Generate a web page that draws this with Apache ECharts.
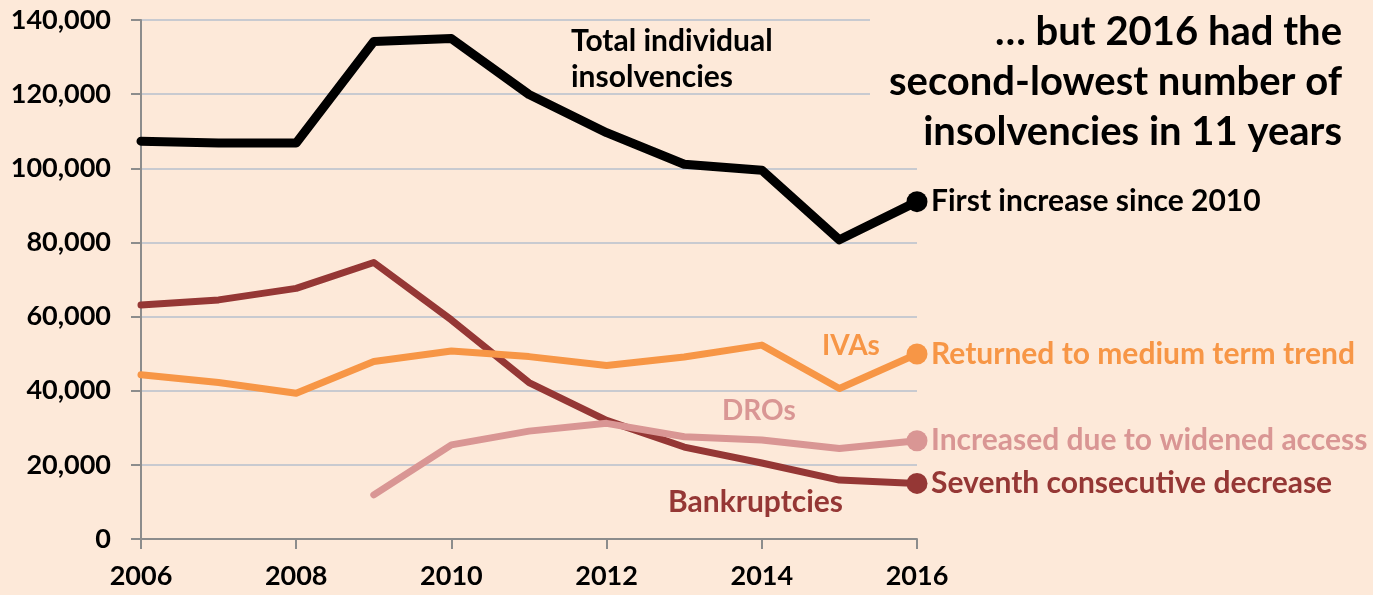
<!DOCTYPE html>
<html>
<head>
<meta charset="utf-8">
<script src="https://cdn.jsdelivr.net/npm/echarts@6/dist/echarts.min.js"></script>
<style>
html,body{margin:0;padding:0;background:#FDE9D9;}
#chart{width:1373px;height:595px;}
</style>
</head>
<body>
<div id="chart"></div>
<script>
const years = [2006, 2007, 2008, 2009, 2010, 2011, 2012, 2013, 2014, 2015, 2016];
const totalInsolvencies = [107300, 106800, 106800, 134200, 135000, 119900, 109600, 101100, 99500, 80700, 91000];
const bankruptcies = [63100, 64500, 67600, 74600, 59100, 42200, 32000, 24800, 20500, 15900, 15000];
const ivas = [44300, 42200, 39300, 47900, 50700, 49200, 46800, 49100, 52300, 40600, 49900];
const dros = [null, null, null, 11900, 25400, 29100, 31200, 27600, 26700, 24400, 26500];
const yTicks = [0, 20000, 40000, 60000, 80000, 100000, 120000, 140000];
const endNotes = {
  total: 'First increase since 2010',
  ivas: 'Returned to medium term trend',
  dros: 'Increased due to widened access',
  bankruptcies: 'Seventh consecutive decrease'
};
const headline = '\u2026 but 2016 had the\nsecond-lowest number of\ninsolvencies in 11 years';

const FONT = 'Lato, "Open Sans", sans-serif';
const BG = '#FDE9D9';

function build(values) {
  return values.map((v, i) => {
    const item = { value: [years[i], v] };
    if (i === values.length - 1) { item.symbol = 'circle'; item.symbolSize = 21; }
    return item;
  });
}

function lineSeries(name, values, color, width, note) {
  return {
    name: name,
    type: 'line',
    data: build(values),
    symbol: 'none',
    showSymbol: true,
    connectNulls: false,
    lineStyle: { color: color, width: width, join: 'round', cap: 'round' },
    itemStyle: { color: color },
    emphasis: { disabled: true },
    endLabel: {
      show: true,
      formatter: note,
      color: color,
      fontFamily: FONT,
      fontWeight: 'bold',
      fontSize: 30,
      distance: 14
    }
  };
}

const chart = echarts.init(document.getElementById('chart'));
chart.setOption({
  backgroundColor: BG,
  animation: false,
  grid: { left: 141, right: 456, top: 20, bottom: 56 },
  xAxis: {
    type: 'value',
    min: 2006, max: 2016, interval: 2,
    axisLine: { lineStyle: { color: '#8c8c8c', width: 2 } },
    axisTick: { show: true, length: 10, lineStyle: { color: '#8c8c8c', width: 2 } },
    splitLine: { show: false },
    axisLabel: {
      formatter: v => String(v),
      color: '#000', fontFamily: FONT, fontWeight: 'bold', fontSize: 27, margin: 24
    }
  },
  yAxis: {
    type: 'value',
    min: yTicks[0], max: yTicks[yTicks.length - 1], interval: 20000,
    axisLine: { show: true, lineStyle: { color: '#8c8c8c', width: 2 } },
    axisTick: { show: true, length: 10, lineStyle: { color: '#8c8c8c', width: 2 } },
    splitLine: { show: true, lineStyle: { color: '#c8cad0', width: 2 } },
    axisLabel: {
      formatter: v => v.toLocaleString('en-US'),
      color: '#000', fontFamily: FONT, fontWeight: 'bold', fontSize: 27, margin: 30
    }
  },
  graphic: [
    { type: 'rect', left: 870, top: 0, shape: { width: 503, height: 162 }, style: { fill: BG }, z: 1, silent: true },
    { type: 'text', z: 2, style: { text: headline, x: 1342, y: 7, align: 'right', verticalAlign: 'top',
        fontFamily: FONT, fontWeight: 'bold', fontSize: 40, lineHeight: 50, fill: '#000' } },
    { type: 'text', z: 2, style: { text: 'Total individual\ninsolvencies', x: 571, y: 23, align: 'left', verticalAlign: 'top',
        fontFamily: FONT, fontWeight: 'bold', fontSize: 30, lineHeight: 36, fill: '#000' } },
    { type: 'text', z: 2, style: { text: 'IVAs', x: 822, y: 332, align: 'left', verticalAlign: 'top',
        fontFamily: FONT, fontWeight: 'bold', fontSize: 28, fill: '#F79646' } },
    { type: 'text', z: 2, style: { text: 'DROs', x: 722, y: 397, align: 'left', verticalAlign: 'top',
        fontFamily: FONT, fontWeight: 'bold', fontSize: 28, fill: '#D99694' } },
    { type: 'text', z: 2, style: { text: 'Bankruptcies', x: 668, y: 487, align: 'left', verticalAlign: 'top',
        fontFamily: FONT, fontWeight: 'bold', fontSize: 30, fill: '#953735' } }
  ],
  series: [
    lineSeries('Total individual insolvencies', totalInsolvencies, '#000000', 9, endNotes.total),
    lineSeries('Bankruptcies', bankruptcies, '#953735', 7, endNotes.bankruptcies),
    lineSeries('IVAs', ivas, '#F79646', 7, endNotes.ivas),
    lineSeries('DROs', dros, '#D99694', 7, endNotes.dros)
  ]
});
</script>
</body>
</html>
